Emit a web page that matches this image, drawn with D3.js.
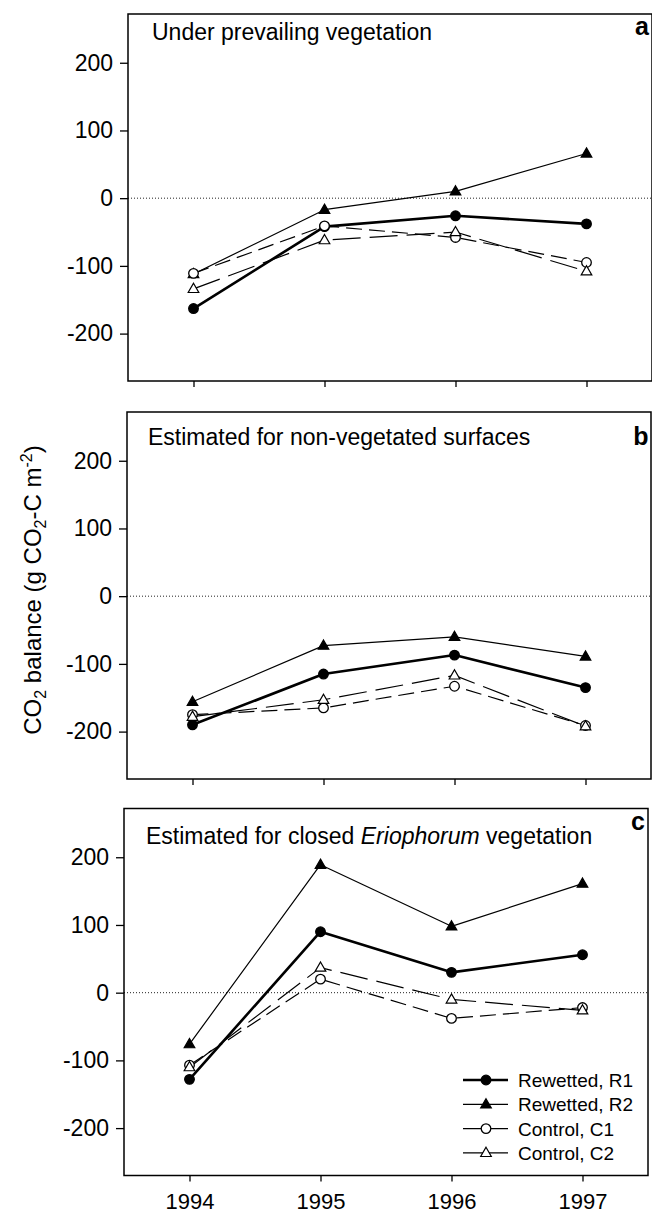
<!DOCTYPE html>
<html>
<head>
<meta charset="utf-8">
<script src="https://cdn.jsdelivr.net/npm/d3@7/dist/d3.min.js"></script>
<style>
  html, body { margin: 0; padding: 0; background: #fff; }
  svg { display: block; }
  text { font-family: "Liberation Sans", Arial, Helvetica, sans-serif; fill: #000; }
</style>
</head>
<body>
<script>
// Years on the x axis
const years = [1994, 1995, 1996, 1997];
const yTicks = [-200, -100, 0, 100, 200];

// (a) Under prevailing vegetation
const r1A = [-163, -42, -26, -38];
const r2A = [-112, -17, 10, 66];
const c1A = [-111, -41, -58, -95];
const c2A = [-134, -62, -50, -108];

// (b) Estimated for non-vegetated surfaces
const r1B = [-190, -115, -87, -135];
const r2B = [-156, -73, -60, -89];
const c1B = [-175, -165, -133, -191];
const c2B = [-178, -153, -117, -192];

// (c) Estimated for closed Eriophorum vegetation
const r1C = [-128, 90, 30, 56];
const r2C = [-76, 189, 98, 161];
const c1C = [-107, 20, -38, -22];
const c2C = [-110, 37, -10, -26];

const seriesNames = ["Rewetted, R1", "Rewetted, R2", "Control, C1", "Control, C2"];

// Drawing styles per series
const styles = [
  { width: 2.6, dash: null,   marker: "circle",   filled: true },
  { width: 1.2, dash: null,   marker: "triangle", filled: true },
  { width: 1.2, dash: "16,7", marker: "circle",   filled: false },
  { width: 1.2, dash: "28,9", marker: "triangle", filled: false }
];

const panels = [
  { letter: "a", left: 128, top: 14,  data: [r1A, r2A, c1A, c2A],
    titleX: 24, titleY: 26, letterY: 21,
    title: [{ t: "Under prevailing vegetation" }] },
  { letter: "b", left: 127, top: 412, data: [r1B, r2B, c1B, c2B],
    titleX: 21, titleY: 33, letterY: 33,
    title: [{ t: "Estimated for non-vegetated surfaces" }] },
  { letter: "c", left: 124, top: 808.5, data: [r1C, r2C, c1C, c2C],
    titleX: 22, titleY: 35, letterY: 21,
    title: [{ t: "Estimated for closed " }, { t: "Eriophorum", italic: true }, { t: " vegetation" }] }
];

const W = 652, H = 1216;
const pw = 524, ph = 367;

const svg = d3.select("body").append("svg").attr("width", W).attr("height", H);

const x = d3.scaleLinear().domain([1993.5, 1997.5]).range([0, pw]);
const y = d3.scaleLinear().domain([-270, 272]).range([ph, 0]);

const line = d3.line().x((d, i) => x(years[i])).y(d => y(d));

function drawMarker(g, type, filled, cx, cy) {
  const fill = filled ? "#000" : "#fff";
  if (type === "circle") {
    g.append("circle").attr("cx", cx).attr("cy", cy).attr("r", 4.8)
      .attr("fill", fill).attr("stroke", "#000").attr("stroke-width", 1.3);
  } else {
    const p = d3.path();
    p.moveTo(cx, cy - 5.6);
    p.lineTo(cx + 5.3, cy + 3.6);
    p.lineTo(cx - 5.3, cy + 3.6);
    p.closePath();
    g.append("path").attr("d", p.toString())
      .attr("fill", fill).attr("stroke", "#000").attr("stroke-width", 1.2)
      .attr("stroke-linejoin", "miter");
  }
}

panels.forEach((p, pi) => {
  const g = svg.append("g").attr("transform", `translate(${p.left},${p.top})`);

  // zero reference line
  g.append("line")
    .attr("x1", 0).attr("x2", pw).attr("y1", y(0)).attr("y2", y(0))
    .attr("stroke", "#222").attr("stroke-width", 1).attr("stroke-dasharray", "1,2");

  // y axis
  const ya = g.append("g").call(
    d3.axisLeft(y).tickValues(yTicks).tickSize(8).tickPadding(7).tickFormat(d => String(d))
  );
  ya.select(".domain").remove();
  ya.selectAll("line").attr("stroke", "#000").attr("stroke-width", 1.3);
  ya.selectAll("text").attr("font-size", 23).attr("fill", "#000")
    .style("font-family", "'Liberation Sans', Arial, sans-serif");

  // x axis (labels on bottom panel only)
  const xa = g.append("g").attr("transform", `translate(0,${ph})`).call(
    d3.axisBottom(x).tickValues(years).tickSize(6).tickPadding(12)
      .tickFormat(d => pi === panels.length - 1 ? String(d) : "")
  );
  xa.select(".domain").remove();
  xa.selectAll("line").attr("stroke", "#000").attr("stroke-width", 1.3);
  xa.selectAll("text").attr("font-size", 22).attr("fill", "#000")
    .style("font-family", "'Liberation Sans', Arial, sans-serif");

  // frame
  g.append("rect").attr("x", 0).attr("y", 0).attr("width", pw).attr("height", ph)
    .attr("fill", "none").attr("stroke", "#000").attr("stroke-width", 1.5);

  // series lines
  p.data.forEach((vals, si) => {
    const s = styles[si];
    g.append("path").datum(vals).attr("d", line)
      .attr("fill", "none").attr("stroke", "#000")
      .attr("stroke-width", s.width)
      .attr("stroke-dasharray", s.dash)
      .attr("stroke-linejoin", "round");
  });

  // series markers
  p.data.forEach((vals, si) => {
    const s = styles[si];
    vals.forEach((v, i) => drawMarker(g, s.marker, s.filled, x(years[i]), y(v)));
  });

  // panel title
  const tt = g.append("text").attr("x", p.titleX).attr("y", p.titleY).attr("font-size", 23);
  p.title.forEach(part => {
    tt.append("tspan").text(part.t).attr("font-style", part.italic ? "italic" : null);
  });

  // panel letter
  g.append("text").attr("x", 514).attr("y", p.letterY).attr("text-anchor", "middle")
    .attr("font-size", 25).attr("font-weight", "bold").text(p.letter);

  // legend in the bottom panel
  if (pi === panels.length - 1) {
    const lg = svg.append("g");
    seriesNames.forEach((name, si) => {
      const s = styles[si];
      const cy = 1080 + si * 24.3;
      lg.append("line").attr("x1", 463).attr("x2", 508).attr("y1", cy).attr("y2", cy)
        .attr("stroke", "#000").attr("stroke-width", s.width);
      drawMarker(lg, s.marker, s.filled, 486, cy);
      lg.append("text").attr("x", 518).attr("y", cy + 7).attr("font-size", 19).text(name);
    });
  }
});

// shared y axis title
const yl = svg.append("text")
  .attr("transform", "translate(41,590) rotate(-90)")
  .attr("text-anchor", "middle")
  .attr("font-size", 24);
yl.append("tspan").text("CO");
yl.append("tspan").text("2").attr("font-size", 16).attr("dy", 5);
yl.append("tspan").text(" balance (g CO").attr("dy", -5);
yl.append("tspan").text("2").attr("font-size", 16).attr("dy", 5);
yl.append("tspan").text("-C m").attr("dy", -5);
yl.append("tspan").text("-2").attr("font-size", 16).attr("dy", -9);
yl.append("tspan").text(")").attr("dy", 9);
</script>
</body>
</html>
